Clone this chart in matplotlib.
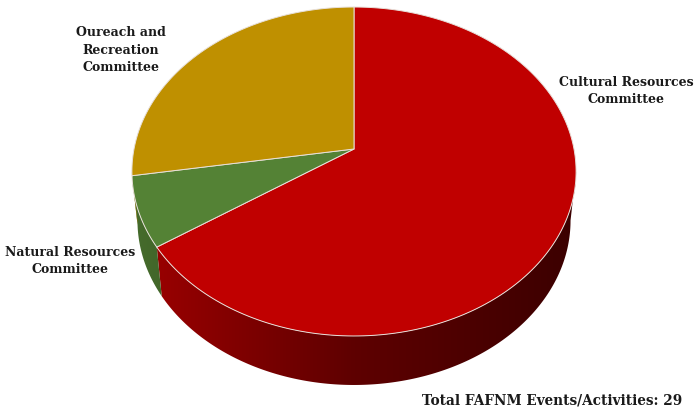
import numpy as np
import matplotlib
matplotlib.use("Agg")
import matplotlib.pyplot as plt
from matplotlib.patches import Polygon
from matplotlib.colors import to_rgb

# ---- data ----
categories = ['Cultural Resources\nCommittee',
              'Natural Resources\nCommittee',
              'Oureach and\nRecreation\nCommittee']
values = [19, 2, 8]
top_colors = ['#C00000', '#548235', '#BF9000']
total_label = 'Total FAFNM Events/Activities: 29'

# ---- layout ----
W, H = 694, 410
fig = plt.figure(figsize=(W / 100, H / 100), dpi=100)
ax = fig.add_axes([0, 0, 1, 1])

cx, cy = 354, 150        # pie centre on screen
A, B, C = 161.4, 0.1368, 220.0   # perspective parameters
thick = 49
shrink = 0.975


def proj(theta):
    u, v = np.cos(theta), np.sin(theta)
    d = 1 + B * v
    return cx + C * u / d, cy - A * v / d


def proj_bottom(theta):
    x, y = proj(theta)
    return cx + (x - cx) * shrink, y + thick


total = float(sum(values))
cum = np.concatenate([[0], np.cumsum(values)])
bounds = 90 - 360 * cum / total   # degrees, clockwise from the top

xs_all = proj(np.radians(np.linspace(0, 360, 721)))[0]
xmin, xmax = xs_all.min(), xs_all.max()
lim = np.degrees(np.arcsin(B))    # silhouette angle offset

# ---- side walls (gradient clipped to the wall outline) ----
xcols = np.linspace(0, W, W + 1)
tcols = np.clip((xcols - xmin) / (xmax - xmin), 0, 1)
fcols = np.interp(tcols, [0, 0.5, 1], [0.83, 0.49, 0.31])
for i, col in enumerate(top_colors):
    a0, a1 = bounds[i + 1], bounds[i]
    lo_v, hi_v = 180 + lim, 360 - lim
    best = None
    for k in (-360, 0, 360):
        lo, hi = max(a0 + k, lo_v), min(a1 + k, hi_v)
        if hi > lo:
            best = (lo, hi)
    if best is None:
        continue
    th = np.radians(np.linspace(best[0], best[1], 300))
    tx, ty = proj(th)
    bx, by = proj_bottom(th)
    pts = list(zip(tx, ty)) + list(zip(bx[::-1], by[::-1]))
    poly = Polygon(pts, closed=True, facecolor='none', edgecolor='none')
    ax.add_patch(poly)
    base = np.array(to_rgb(col))
    img = np.clip(fcols[None, :, None] * base[None, None, :], 0, 1)
    im = ax.imshow(img, extent=[0, W, H, 0], aspect='auto',
                   interpolation='bilinear', zorder=1)
    im.set_clip_path(poly)

# ---- top face ----
for i, col in enumerate(top_colors):
    a0, a1 = bounds[i + 1], bounds[i]
    th = np.radians(np.linspace(a0, a1, 200))
    x, y = proj(th)
    pts = [(cx, cy)] + list(zip(x, y))
    ax.add_patch(Polygon(pts, closed=True, facecolor=col, zorder=2,
                         edgecolor='#E8E0DA', linewidth=0.7, joinstyle='round'))

ax.set_xlim(0, W)
ax.set_ylim(H, 0)
ax.axis('off')

# ---- labels ----
font = dict(family='DejaVu Serif', weight='bold', size=9, color='#1A1A1A',
            linespacing=1.45)
ax.text(626, 91, categories[0], ha='center', va='center', **font)
ax.text(70, 261, categories[1], ha='center', va='center', **font)
ax.text(121, 50, categories[2], ha='center', va='center', **font)
ax.text(682, 401, total_label, ha='right', va='center',
        family='DejaVu Serif', weight='bold', size=9.8, color='#1A1A1A')

fig.savefig('out.png', dpi=100, facecolor='white')
